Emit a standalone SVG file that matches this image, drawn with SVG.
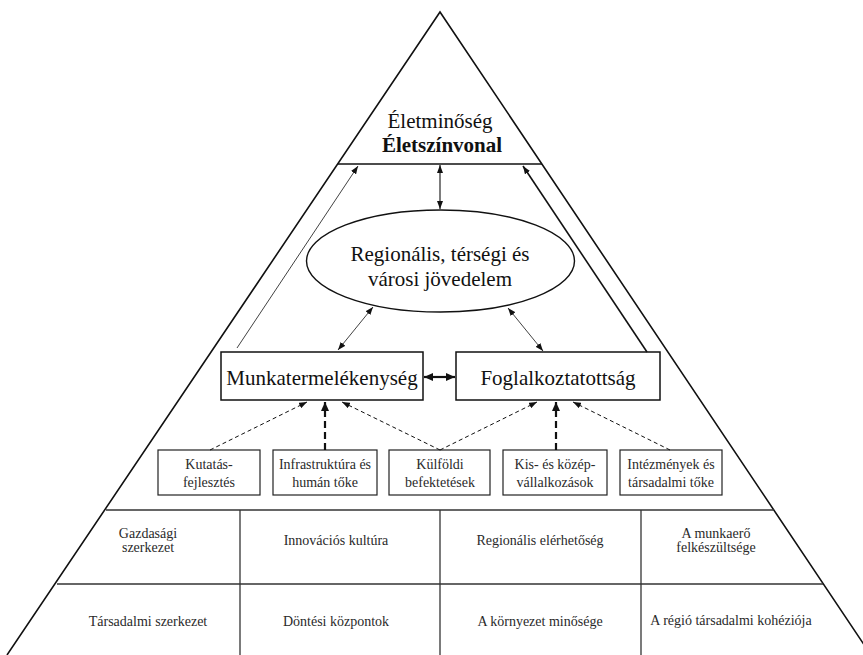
<svg xmlns="http://www.w3.org/2000/svg" width="863" height="655" viewBox="0 0 863 655">
<style>
text{font-family:'Liberation Serif','DejaVu Serif','Noto Serif',serif;text-anchor:middle;fill:#111}
.big{font-size:21px}
.sm{font-size:14px;fill:#2a2a2a}
.tb{font-size:14px;fill:#2a2a2a}
.box{fill:#fff;stroke:#111;stroke-width:1.5}
.sbox{fill:#fff;stroke:#222;stroke-width:1.2}
.ln{fill:none;stroke:#111}
.grid{fill:none;stroke:#333;stroke-width:1.3}
</style>
<defs>
<marker id="ah" viewBox="0 0 8 6" refX="8" refY="3" markerWidth="8" markerHeight="6" markerUnits="userSpaceOnUse" orient="auto-start-reverse"><path d="M0,0 L8,3 L0,6 z" fill="#111"/></marker>
<marker id="ahb" viewBox="0 0 9 8" refX="9" refY="4" markerWidth="9" markerHeight="8" markerUnits="userSpaceOnUse" orient="auto-start-reverse"><path d="M0,0 L9,4 L0,8 z" fill="#111"/></marker>
</defs>
<rect width="863" height="655" fill="#fff"/>
<g id="pyramid">
<polyline class="ln" stroke-width="1.6" points="7,655 440,12 871,655"/>
<line class="ln" stroke-width="1.5" x1="338" y1="164" x2="542" y2="164"/>
</g>
<g id="top">
<text class="big" x="440" y="128">Életminőség</text>
<text class="big" x="442" y="152" font-weight="bold" font-size="18.5">Életszínvonal</text>
</g>
<g id="jovedelem">
<ellipse cx="440.5" cy="261" rx="134" ry="51" fill="#fff" stroke="#111" stroke-width="1.4"/>
<text class="big" x="440" y="261">Regionális, térségi és</text>
<text class="big" x="440" y="286">városi jövedelem</text>
</g>
<g id="munkatermelekenyseg">
<rect class="box" x="221" y="352" width="202" height="48"/>
<text class="big" x="322" y="385">Munkatermelékenység</text>
</g>
<g id="foglalkoztatottsag">
<rect class="box" x="456" y="352" width="204" height="48"/>
<text class="big" x="558" y="385">Foglalkoztatottság</text>
</g>
<g id="kutatas">
<rect class="sbox" x="158" y="450" width="102" height="45"/>
<text class="sm" x="209" y="469">Kutatás-</text>
<text class="sm" x="209" y="487">fejlesztés</text>
</g>
<g id="infrastruktura">
<rect class="sbox" x="273" y="450" width="104" height="45"/>
<text class="sm" x="325" y="469">Infrastruktúra és</text>
<text class="sm" x="325" y="487">humán tőke</text>
</g>
<g id="kulfoldi">
<rect class="sbox" x="389" y="450" width="101" height="45"/>
<text class="sm" x="440" y="469">Külföldi</text>
<text class="sm" x="440" y="487">befektetések</text>
</g>
<g id="kkv">
<rect class="sbox" x="503" y="450" width="104" height="45"/>
<text class="sm" x="555" y="469">Kis- és közép-</text>
<text class="sm" x="555" y="487">vállalkozások</text>
</g>
<g id="intezmenyek">
<rect class="sbox" x="620" y="450" width="102" height="45"/>
<text class="sm" x="671" y="469">Intézmények és</text>
<text class="sm" x="671" y="487">társadalmi tőke</text>
</g>
<g id="table">
<line class="grid" x1="106" y1="510" x2="774" y2="510"/>
<line class="grid" x1="57" y1="584" x2="823" y2="584"/>
<line class="grid" x1="240" y1="510" x2="240" y2="655"/>
<line class="grid" x1="440" y1="510" x2="440" y2="655"/>
<line class="grid" x1="641" y1="510" x2="641" y2="655"/>
<text class="tb" x="148" y="538">Gazdasági</text>
<text class="tb" x="148" y="552">szerkezet</text>
<text class="tb" x="336" y="545">Innovációs kultúra</text>
<text class="tb" x="540" y="545">Regionális elérhetőség</text>
<text class="tb" x="716" y="538">A munkaerő</text>
<text class="tb" x="716" y="552">felkészültsége</text>
<text class="tb" x="148" y="626">Társadalmi szerkezet</text>
<text class="tb" x="336" y="626">Döntési központok</text>
<text class="tb" x="540" y="626">A környezet minősége</text>
<text class="tb" x="731" y="625">A régió társadalmi kohéziója</text>
</g>
<g id="connectors">
<line class="ln" stroke-width="1.1" x1="440" y1="165" x2="440" y2="209" marker-start="url(#ah)" marker-end="url(#ah)"/>
<line class="ln" stroke-width="0.8" stroke="#777" x1="237" y1="348" x2="358" y2="166" marker-end="url(#ah)"/>
<line class="ln" stroke-width="1.6" x1="647" y1="352" x2="523" y2="166" marker-end="url(#ah)"/>
<line class="ln" stroke-width="0.8" x1="338" y1="350" x2="373" y2="307" marker-start="url(#ah)" marker-end="url(#ah)"/>
<line class="ln" stroke-width="0.8" x1="543" y1="351" x2="508" y2="308" marker-start="url(#ah)" marker-end="url(#ah)"/>
<line class="ln" stroke-width="2.2" x1="424" y1="377" x2="455" y2="377" marker-start="url(#ahb)" marker-end="url(#ahb)"/>
<line class="ln" stroke-width="1" stroke-dasharray="4,3" x1="210" y1="450" x2="307" y2="402" marker-end="url(#ah)"/>
<line class="ln" stroke-width="2.2" stroke-dasharray="7,4" x1="325" y1="450" x2="325" y2="402" marker-end="url(#ahb)"/>
<line class="ln" stroke-width="1" stroke-dasharray="4,3" x1="440" y1="450" x2="342" y2="402" marker-end="url(#ah)"/>
<line class="ln" stroke-width="1" stroke-dasharray="4,3" x1="440" y1="450" x2="537" y2="402" marker-end="url(#ah)"/>
<line class="ln" stroke-width="2.2" stroke-dasharray="7,4" x1="556" y1="450" x2="556" y2="402" marker-end="url(#ahb)"/>
<line class="ln" stroke-width="1" stroke-dasharray="4,3" x1="670" y1="450" x2="573" y2="402" marker-end="url(#ah)"/>
</g>
</svg>
